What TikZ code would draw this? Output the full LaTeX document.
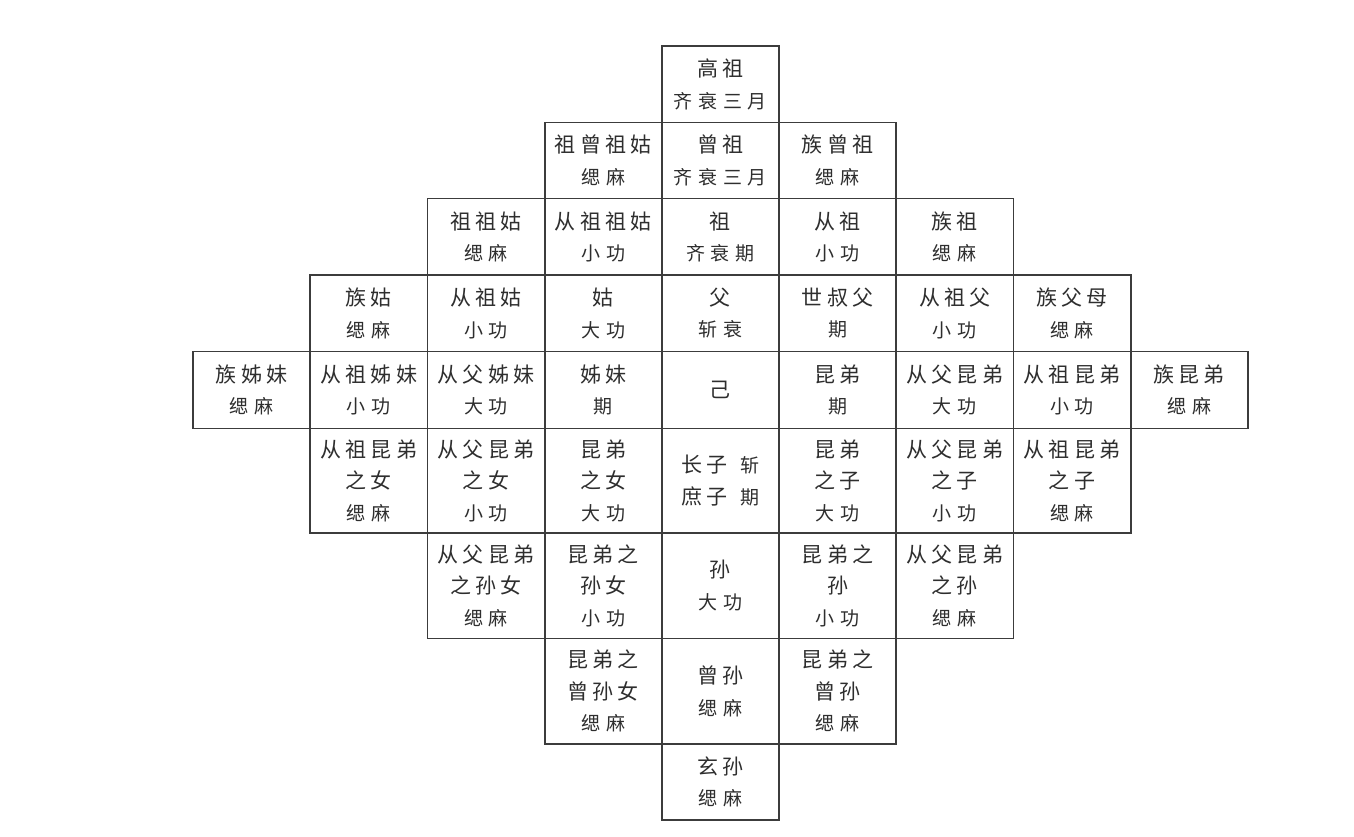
\documentclass[tikz,border=0pt]{standalone}
\usepackage{fontspec}
\newfontfamily\cjkA[LetterSpace=20]{Noto Sans CJK SC}
\newfontfamily\cjkB[LetterSpace=30]{Noto Sans CJK SC}
\newcommand\gA{\cjkA\fontsize{21}{31.5}\selectfont}
\newcommand\gB{\cjkB\fontsize{19}{31.5}\selectfont}
\newcommand\gr[1]{{\gB #1}}
\definecolor{linec}{HTML}{3C3C3C}
\definecolor{textc}{HTML}{2E2E2E}
\begin{document}
\begin{tikzpicture}[x=1pt,y=-1pt,
  cell/.style={draw=linec, line width=1.8pt, rectangle, inner sep=0pt,
    minimum width=117.2pt, align=center, font=\gA, text=textc},
  rA/.style={cell, minimum height=76.5pt},
  rB/.style={cell, minimum height=77pt},
  rC/.style={cell, minimum height=105pt}]
\useasboundingbox (0,0) rectangle (1354,837);
% row 0
\node[rA] (gaozu) at (720.4,84.25) {高祖\\\gr{齐衰三月}};
% row 1
\node[rA, minimum height=76pt] (zuzengzugu) at (603.2,160.5) {祖曾祖姑\\\gr{缌麻}};
\node[rA, minimum height=76pt] (zengzu) at (720.4,160.5) {曾祖\\\gr{齐衰三月}};
\node[rA, minimum height=76pt] (zuzengzu) at (837.6,160.5) {族曾祖\\\gr{缌麻}};
% row 2
\node[rA] (zuzugu) at (486,236.75) {祖祖姑\\\gr{缌麻}};
\node[rA] (congzuzugu) at (603.2,236.75) {从祖祖姑\\\gr{小功}};
\node[rA] (zu) at (720.4,236.75) {祖\\\gr{齐衰期}};
\node[rA] (congzu) at (837.6,236.75) {从祖\\\gr{小功}};
\node[rA] (zuzu) at (954.8,236.75) {族祖\\\gr{缌麻}};
% row 3
\node[rA] (zugu) at (368.8,313.25) {族姑\\\gr{缌麻}};
\node[rA] (congzugu) at (486,313.25) {从祖姑\\\gr{小功}};
\node[rA] (gu) at (603.2,313.25) {姑\\\gr{大功}};
\node[rA] (fu) at (720.4,313.25) {父\\\gr{斩衰}};
\node[rA] (shishufu) at (837.6,313.25) {世叔父\\\gr{期}};
\node[rA] (congzufu) at (954.8,313.25) {从祖父\\\gr{小功}};
\node[rA] (zufumu) at (1072,313.25) {族父母\\\gr{缌麻}};
% row 4
\node[rB] (zuzimei) at (251.6,390) {族姊妹\\\gr{缌麻}};
\node[rB] (congzuzimei) at (368.8,390) {从祖姊妹\\\gr{小功}};
\node[rB] (congfuzimei) at (486,390) {从父姊妹\\\gr{大功}};
\node[rB] (zimei) at (603.2,390) {姊妹\\\gr{期}};
\node[rB] (ji) at (720.4,390) {己};
\node[rB] (kundi) at (837.6,390) {昆弟\\\gr{期}};
\node[rB] (congfukundi) at (954.8,390) {从父昆弟\\\gr{大功}};
\node[rB] (congzukundi) at (1072,390) {从祖昆弟\\\gr{小功}};
\node[rB] (zukundi) at (1189.2,390) {族昆弟\\\gr{缌麻}};
% row 5
\node[rC, minimum height=104.5pt] (czkdnv) at (368.8,480.75) {从祖昆弟\\之女\\\gr{缌麻}};
\node[rC, minimum height=104.5pt] (cfkdnv) at (486,480.75) {从父昆弟\\之女\\\gr{小功}};
\node[rC, minimum height=104.5pt] (kdnv) at (603.2,480.75) {昆弟\\之女\\\gr{大功}};
\node[rC, minimum height=104.5pt] (zhangzi) at (720.4,480.75) {长子\hspace{12pt}\gr{斩}\\庶子\hspace{12pt}\gr{期}};
\node[rC, minimum height=104.5pt] (kdzi) at (837.6,480.75) {昆弟\\之子\\\gr{大功}};
\node[rC, minimum height=104.5pt] (cfkdzi) at (954.8,480.75) {从父昆弟\\之子\\\gr{小功}};
\node[rC, minimum height=104.5pt] (czkdzi) at (1072,480.75) {从祖昆弟\\之子\\\gr{缌麻}};
% row 6
\node[rC, minimum height=105.5pt] (cfkdsunnv) at (486,585.75) {从父昆弟\\之孙女\\\gr{缌麻}};
\node[rC, minimum height=105.5pt] (kdsunnv) at (603.2,585.75) {昆弟之\\孙女\\\gr{小功}};
\node[rC, minimum height=105.5pt] (sun) at (720.4,585.75) {孙\\\gr{大功}};
\node[rC, minimum height=105.5pt] (kdsun) at (837.6,585.75) {昆弟之\\孙\\\gr{小功}};
\node[rC, minimum height=105.5pt] (cfkdsun) at (954.8,585.75) {从父昆弟\\之孙\\\gr{缌麻}};
% row 7
\node[rC, minimum height=105.5pt] (kdzsnv) at (603.2,691.25) {昆弟之\\曾孙女\\\gr{缌麻}};
\node[rC, minimum height=105.5pt] (zengsun) at (720.4,691.25) {曾孙\\\gr{缌麻}};
\node[rC, minimum height=105.5pt] (kdzs) at (837.6,691.25) {昆弟之\\曾孙\\\gr{缌麻}};
% row 8
\node[rA, minimum height=76pt] (xuansun) at (720.4,782) {玄孙\\\gr{缌麻}};
\end{tikzpicture}
\end{document}
